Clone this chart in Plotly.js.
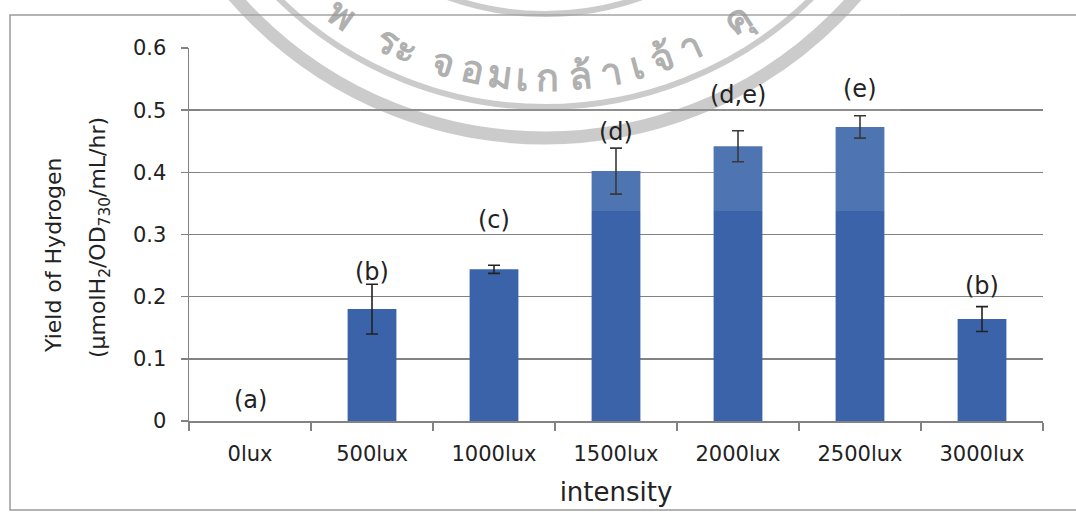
<!DOCTYPE html>
<html>
<head>
<meta charset="utf-8">
<script src="https://cdn.plot.ly/plotly-3.0.1.min.js"></script>
<style>
  html, body { margin: 0; padding: 0; background: #ffffff; }
  #chart { width: 1076px; height: 512px; }
</style>
</head>
<body>
<div id="chart"></div>
<script>
// Hydrogen yield at different light intensities
const categories = ['0lux', '500lux', '1000lux', '1500lux', '2000lux', '2500lux', '3000lux'];
const yieldValues = [0, 0.180, 0.244, 0.402, 0.442, 0.473, 0.164];
const yieldErrors = [null, 0.040, 0.0065, 0.037, 0.025, 0.018, 0.020];
const groupLetters = ['(a)', '(b)', '(c)', '(d)', '(d,e)', '(e)', '(b)'];
const letterHeights = [0.034, 0.240, 0.323, 0.465, 0.524, 0.534, 0.217];
const yTicks = [0, 0.1, 0.2, 0.3, 0.4, 0.5, 0.6];

const FONT = 'DejaVu Sans, Verdana, sans-serif';
const INK = '#222222';
const BAR = '#3a63a9';
const RULE = '#828282';

// plot box in page pixels, used to place the decorative seal and frame
const M = { l: 189, r: 33, t: 48, b: 91 };
const W = 1076, H = 512;
const PW = W - M.l - M.r, PH = H - M.t - M.b;
const px = x => (x - M.l) / PW;
const py = y => (H - M.b - y) / PH;

// seal drawn faintly behind the chart
const SEAL = { cx: 545, cy: -274, r: 352 };
const SEAL_GREY = 'rgba(150,150,150,0.55)';
function ring(r, w) {
  return {
    type: 'circle', xref: 'paper', yref: 'paper', layer: 'below',
    x0: px(SEAL.cx - r), x1: px(SEAL.cx + r),
    y0: py(SEAL.cy + r), y1: py(SEAL.cy - r),
    line: { color: SEAL_GREY, width: w }, fillcolor: 'rgba(0,0,0,0)'
  };
}
const sealText = ['พ', 'ร', 'ะ', 'จ', 'อ', 'ม', 'เ', 'ก', 'ล้', 'า', 'เ', 'จ้', 'า', 'คุ'];
const sealX = [342, 388, 406, 443, 472, 500, 522, 547, 580, 610, 636, 662, 690, 738];
const sealAnnotations = sealText.map((ch, i) => {
  const phi = Math.asin((sealX[i] - SEAL.cx) / SEAL.r);
  const y = SEAL.cy + SEAL.r * Math.cos(phi);
  return {
    xref: 'paper', yref: 'paper', x: px(sealX[i]), y: py(y),
    xanchor: 'center', yanchor: 'middle', showarrow: false,
    text: ch, textangle: -phi * 180 / Math.PI,
    font: { family: FONT, size: 38, weight: 'bold', color: 'rgba(150,150,150,0.75)' }
  };
});

const trace = {
  type: 'bar',
  x: categories,
  y: yieldValues,
  marker: { color: BAR, line: { width: 0 } },
  error_y: {
    type: 'data',
    array: yieldErrors.map(e => (e === null ? NaN : e)),
    visible: true,
    color: INK,
    thickness: 1.6,
    width: 6
  },
  hoverinfo: 'x+y'
};

const letterAnnotations = groupLetters.map((t, i) => ({
  x: categories[i], y: letterHeights[i], xref: 'x', yref: 'y',
  text: t, showarrow: false, xanchor: 'center', yanchor: 'middle',
  font: { family: FONT, size: 24, color: INK }
}));

const titleAnnotations = [
  {
    xref: 'paper', yref: 'paper', x: px(54), y: py(255),
    text: 'Yield of Hydrogen', textangle: -90, showarrow: false,
    xanchor: 'center', yanchor: 'middle',
    font: { family: FONT, size: 22, color: INK }
  },
  {
    xref: 'paper', yref: 'paper', x: px(99), y: py(238),
    text: '(μmolH<sub>2</sub>/OD<sub>730</sub>/mL/hr)', textangle: -90, showarrow: false,
    xanchor: 'center', yanchor: 'middle',
    font: { family: FONT, size: 22, color: INK }
  }
];

const layout = {
  width: W, height: H,
  margin: M,
  paper_bgcolor: '#ffffff',
  plot_bgcolor: '#ffffff',
  showlegend: false,
  bargap: 0.6,
  font: { family: FONT, color: INK },
  xaxis: {
    type: 'category',
    showgrid: false,
    showline: true, linecolor: RULE, linewidth: 1.5,
    ticks: 'outside', tickson: 'boundaries', ticklen: 8, tickcolor: RULE, tickwidth: 1.5,
    tickfont: { family: FONT, size: 21, color: INK },
    ticklabelstandoff: 13,
    title: { text: 'intensity', font: { family: FONT, size: 26, color: INK }, standoff: 18 },
    fixedrange: true
  },
  yaxis: {
    range: [0, 0.6],
    tickvals: yTicks,
    ticktext: yTicks.map(v => String(v)),
    showgrid: true, gridcolor: RULE, gridwidth: 1.5,
    zeroline: false,
    showline: true, linecolor: RULE, linewidth: 1.5,
    ticks: 'outside', ticklen: 7, tickcolor: RULE, tickwidth: 1.5,
    tickfont: { family: FONT, size: 21, color: INK },
    ticklabelstandoff: 10,
    fixedrange: true
  },
  shapes: [
    // outer frame of the chart
    {
      type: 'rect', xref: 'paper', yref: 'paper', layer: 'below',
      x0: px(10), x1: px(1090), y0: py(510), y1: py(15),
      line: { color: '#9a9a9a', width: 1.5 }, fillcolor: 'rgba(0,0,0,0)'
    },
    ring(412, 13),
    ring(381, 6),
    ring(288, 6),
    // pale veil of the seal over the upper part of the plot
    {
      type: 'rect', xref: 'paper', yref: 'paper', layer: 'above',
      x0: px(200), x1: px(900), y0: py(211), y1: py(0),
      line: { width: 0 }, fillcolor: 'rgba(255,255,255,0.11)'
    }
  ],
  annotations: sealAnnotations.concat(letterAnnotations, titleAnnotations)
};

Plotly.newPlot('chart', [trace], layout, { displayModeBar: false, staticPlot: true });
</script>
</body>
</html>
